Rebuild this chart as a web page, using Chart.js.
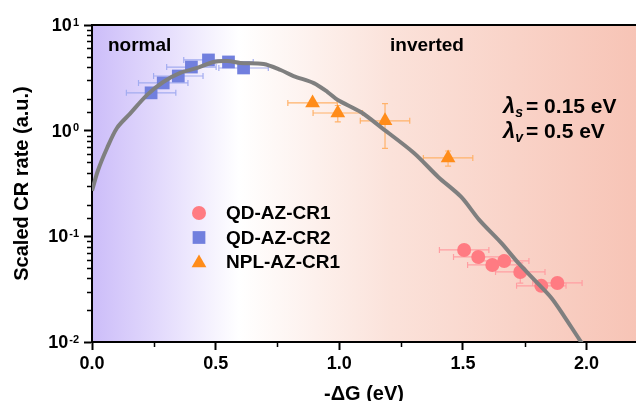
<!DOCTYPE html>
<html>
<head>
<meta charset="utf-8">
<script src="https://cdn.jsdelivr.net/npm/chart.js@4/dist/chart.umd.min.js"></script>
<style>
  html, body { margin: 0; padding: 0; background: #fff; overflow: hidden; }
  #wrap { width: 636px; height: 401px; position: relative; }
  canvas { display: block; }
</style>
</head>
<body>
<div id="wrap"><canvas id="chart"></canvas></div>
<script>
// model curve
const curveX = [0, 0.024, 0.061, 0.101, 0.154, 0.223, 0.288, 0.357, 0.426, 0.491, 0.548, 0.600, 0.694, 0.763, 0.815, 0.897, 0.953, 0.994, 1.087, 1.168, 1.302, 1.400, 1.493, 1.566, 1.655, 1.724, 1.789, 1.858, 1.911, 1.972, 2.0];
const curveY = [0.27, 0.42, 0.685, 1.06, 1.45, 2.18, 2.89, 3.52, 3.92, 4.47, 4.56, 4.37, 4.27, 3.75, 3.29, 2.82, 2.32, 1.95, 1.50, 1.08, 0.615, 0.365, 0.236, 0.143, 0.0866, 0.056, 0.0387, 0.0261, 0.0173, 0.0105, 0.0085];

// QD-AZ-CR1 (circles)
const qd1X = [1.505, 1.562, 1.619, 1.667, 1.732, 1.817, 1.882];
const qd1Y = [0.0743, 0.0638, 0.0536, 0.0585, 0.046, 0.034, 0.0362];
const qd1XErr = [0.1, 0.1, 0.1, 0.1, 0.1, 0.1, 0.1];
const qd1YErr = [0, 0, 0, 0, 0.01, 0, 0];

// QD-AZ-CR2 (squares)
const qd2X = [0.239, 0.288, 0.349, 0.402, 0.471, 0.552, 0.613];
const qd2Y = [2.28, 2.83, 3.29, 4.0, 4.67, 4.47, 3.92];
const qd2XErr = [0.1, 0.1, 0.1, 0.1, 0.1, 0.1, 0.1];
const qd2YErr = [0, 0, 0, 0, 0, 0, 0];

// NPL-AZ-CR1 (triangles)
const nplX = [0.892, 0.994, 1.185, 1.44];
const nplY = [1.83, 1.47, 1.24, 0.552];
const nplXErr = [0.1, 0.1, 0.1, 0.1];
const nplYErr = [0.1, 0.26, 0.56, 0.09];

const xTicks = [0.0, 0.5, 1.0, 1.5, 2.0];
const yTicks = [0.01, 0.1, 1, 10];
const yTickExp = ["-2", "-1", "0", "1"];

const FONT = "'Liberation Sans', Arial, sans-serif";

function pts(xs, ys) {
  return xs.map((x, i) => ({ x: x, y: ys[i] }));
}

const series = [
  { label: "QD-AZ-CR1", x: qd1X, y: qd1Y, xErr: qd1XErr, yErr: qd1YErr, color: "#ff7b82", errColor: "#ff9ea2", style: "circle", r: 7 },
  { label: "QD-AZ-CR2", x: qd2X, y: qd2Y, xErr: qd2XErr, yErr: qd2YErr, color: "#717fde", errColor: "#a3acf0", style: "rect", r: 9 },
  { label: "NPL-AZ-CR1", x: nplX, y: nplY, xErr: nplXErr, yErr: nplYErr, color: "#ff8c1a", errColor: "#ffb26a", style: "triangle", r: 8.5 }
];

const bgPlugin = {
  id: "bg",
  beforeDraw(chart) {
    const { ctx, chartArea: a } = chart;
    const g = ctx.createLinearGradient(a.left, 0, a.right, 0);
    g.addColorStop(0, "#ccbdf9");
    g.addColorStop(0.12, "#e2d9fc");
    g.addColorStop(0.27, "#ffffff");
    g.addColorStop(0.55, "#fbe2da");
    g.addColorStop(1, "#f7c4b6");
    ctx.save();
    ctx.fillStyle = g;
    ctx.fillRect(a.left, a.top, a.right - a.left, a.bottom - a.top);
    ctx.restore();
  }
};

const errPlugin = {
  id: "errbars",
  beforeDatasetsDraw(chart) {
    const { ctx, scales } = chart;
    const xs = scales.x, ys = scales.y;
    ctx.save();
    ctx.lineWidth = 1.2;
    series.forEach(s => {
      ctx.strokeStyle = s.errColor;
      s.x.forEach((xv, i) => {
        const px = xs.getPixelForValue(xv);
        const py = ys.getPixelForValue(s.y[i]);
        const x0 = xs.getPixelForValue(xv - s.xErr[i]);
        const x1 = xs.getPixelForValue(xv + s.xErr[i]);
        ctx.beginPath();
        ctx.moveTo(x0, py); ctx.lineTo(x1, py);
        ctx.moveTo(x0, py - 3); ctx.lineTo(x0, py + 3);
        ctx.moveTo(x1, py - 3); ctx.lineTo(x1, py + 3);
        if (s.yErr[i] > 0) {
          const y0 = ys.getPixelForValue(s.y[i] + s.yErr[i]);
          const y1 = ys.getPixelForValue(s.y[i] - s.yErr[i]);
          ctx.moveTo(px, y0); ctx.lineTo(px, y1);
          ctx.moveTo(px - 3, y0); ctx.lineTo(px + 3, y0);
          ctx.moveTo(px - 3, y1); ctx.lineTo(px + 3, y1);
        }
        ctx.stroke();
      });
    });
    ctx.restore();
  }
};

const decoPlugin = {
  id: "deco",
  afterDraw(chart) {
    const { ctx, chartArea: a, scales } = chart;
    ctx.save();
    // top frame line
    ctx.strokeStyle = "#000";
    ctx.lineWidth = 2;
    ctx.beginPath();
    ctx.moveTo(a.left - 1, a.top); ctx.lineTo(a.right, a.top);
    ctx.stroke();

    // minor ticks
    ctx.lineWidth = 1.5;
    ctx.beginPath();
    scales.y.ticks.forEach(t => {
      if (t.major) return;
      const py = Math.round(scales.y.getPixelForValue(t.value)) + 0.5;
      ctx.moveTo(a.left - 5, py); ctx.lineTo(a.left, py);
    });
    scales.x.ticks.forEach(t => {
      if (Math.abs(t.value * 2 - Math.round(t.value * 2)) < 1e-6) return;
      const px = Math.round(scales.x.getPixelForValue(t.value)) + 0.5;
      ctx.moveTo(px, a.bottom); ctx.lineTo(px, a.bottom + 5);
    });
    ctx.stroke();

    // y tick labels with exponents
    ctx.fillStyle = "#000";
    yTicks.forEach((v, i) => {
      const py = scales.y.getPixelForValue(v);
      ctx.font = "bold 11px " + FONT;
      const ew = ctx.measureText(yTickExp[i]).width;
      ctx.textAlign = "right";
      ctx.textBaseline = "top";
      ctx.fillText(yTickExp[i], 79, py - 8);
      ctx.font = "bold 18px " + FONT;
      ctx.textBaseline = "middle";
      ctx.fillText("10", 79 - ew - 1, py + 1);
    });

    // region labels
    ctx.textAlign = "left";
    ctx.textBaseline = "middle";
    ctx.font = "bold 19px " + FONT;
    ctx.fillText("normal", 108, 46);
    ctx.fillText("inverted", 390, 46);

    // lambda annotations
    const lam = (sub, rest, y) => {
      let x = 503;
      ctx.font = "italic bold 22px " + FONT;
      ctx.fillText("\u03bb", x, y);
      x += ctx.measureText("\u03bb").width;
      ctx.font = "italic bold 14px " + FONT;
      ctx.fillText(sub, x, y + 6);
      x += ctx.measureText(sub).width + 3;
      ctx.font = "bold 21px " + FONT;
      ctx.fillText(rest, x, y);
    };
    lam("s", "= 0.15 eV", 107);
    lam("v", "= 0.5 eV", 132);

    // legend
    const lx = 199, ly = 213, step = 24.5;
    series.forEach((s, i) => {
      const y = ly + i * step;
      ctx.fillStyle = s.color;
      Chart.helpers.drawPoint(ctx, { pointStyle: s.style, radius: s.r, rotation: 0, borderWidth: 0 }, lx, y + (s.style === "triangle" ? 1 : 0));
      ctx.fillStyle = "#000";
      ctx.font = "bold 19px " + FONT;
      ctx.textAlign = "left";
      ctx.textBaseline = "middle";
      ctx.fillText(s.label, 226, y + 1);
    });
    ctx.restore();
  }
};

const datasets = [
  {
    label: "model",
    data: pts(curveX, curveY),
    showLine: true,
    borderColor: "#7f7f7f",
    borderWidth: 4,
    pointRadius: 0,
    tension: 0.3,
    fill: false
  }
].concat(series.map(s => ({
  label: s.label,
  data: pts(s.x, s.y),
  showLine: false,
  pointStyle: s.style,
  pointRadius: s.r,
  backgroundColor: s.color,
  borderWidth: 0
})));

const ctx = document.getElementById("chart");
new Chart(ctx, {
  type: "scatter",
  data: { datasets: datasets },
  plugins: [bgPlugin, errPlugin, decoPlugin],
  options: {
    responsive: true,
    maintainAspectRatio: false,
    animation: false,
    layout: { autoPadding: false, padding: { left: 6, right: 0, top: 25, bottom: 0 } },
    plugins: {
      legend: { display: false },
      tooltip: { enabled: false }
    },
    scales: {
      x: {
        type: "linear",
        min: 0,
        max: 2.2,
        afterFit: s => { s.height = 59; s.paddingRight = 0; s.paddingLeft = 0; },
        afterBuildTicks: s => {
          const t = [];
          for (let v = 0; v <= 2.2 + 1e-9; v += 0.25) t.push({ value: Math.round(v * 100) / 100 });
          s.ticks = t;
        },
        ticks: {
          color: "#000",
          font: { family: FONT, size: 18, weight: "bold" },
          padding: 3,
          maxRotation: 0,
          autoSkip: false,
          callback: v => xTicks.some(t => Math.abs(t - v) < 1e-6) ? v.toFixed(1) : ""
        },
        grid: {
          drawOnChartArea: false,
          drawTicks: true,
          tickLength: 8,
          tickWidth: 2,
          tickColor: c => (c.tick && xTicks.some(t => Math.abs(t - c.tick.value) < 1e-6)) ? "#000" : "rgba(0,0,0,0)"
        },
        border: { display: true, color: "#000", width: 2 },
        title: {
          display: true,
          text: "-\u0394G (eV)",
          color: "#000",
          font: { family: FONT, size: 20, weight: "bold" },
          padding: { top: 0, bottom: -5 }
        }
      },
      y: {
        type: "logarithmic",
        min: 0.01,
        max: 10,
        afterFit: s => { s.width = 86; s.paddingTop = 0; s.paddingBottom = 0; },
        ticks: {
          color: "#000",
          font: { family: FONT, size: 18, weight: "bold" },
          autoSkip: false,
          callback: () => ""
        },
        grid: {
          drawOnChartArea: false,
          drawTicks: true,
          tickLength: 8,
          tickWidth: 2,
          tickColor: c => (c.tick && c.tick.major) ? "#000" : "rgba(0,0,0,0)"
        },
        border: { display: true, color: "#000", width: 2 },
        title: {
          display: true,
          text: "Scaled CR rate (a.u.)",
          color: "#000",
          font: { family: FONT, size: 20, weight: "bold" },
          padding: { top: 4, bottom: 0 }
        }
      }
    }
  }
});
</script>
</body>
</html>
